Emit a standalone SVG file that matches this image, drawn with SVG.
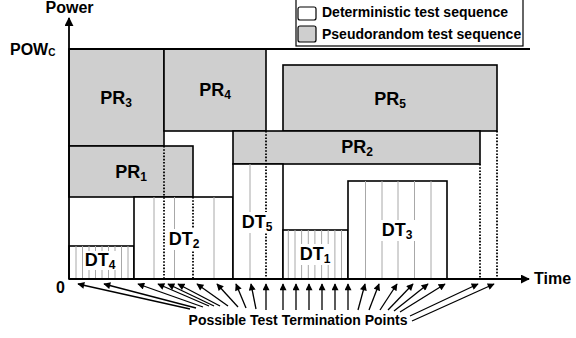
<svg xmlns="http://www.w3.org/2000/svg" width="576" height="338" viewBox="0 0 576 338">
<style>
text{font-family:"Liberation Sans",Arial,sans-serif;font-weight:bold;fill:#000}
.lbl{font-size:18px}
.sub{font-size:12px}
.pr{fill:#cfcfcf;stroke:#000;stroke-width:1.6}
.dt{fill:#fff;stroke:#000;stroke-width:1.6}
.st{stroke:#a8a8a8;stroke-width:1}
.dot{stroke:#000;stroke-width:1.8;stroke-dasharray:1.6 1.6;fill:none}
.ax{stroke:#000;stroke-width:1.8;fill:none}
.bg{fill:#fff}
.ar{stroke:#000;stroke-width:1.3;fill:none;marker-end:url(#ah)}
</style>
<defs>
<marker id="ah" viewBox="0 0 10 10" refX="9" refY="5" markerWidth="8" markerHeight="7" markerUnits="userSpaceOnUse" orient="auto">
<path d="M0,0 L10,5 L0,10 z" fill="#000"/>
</marker>
<marker id="axh" viewBox="0 0 10 10" refX="9" refY="5" markerWidth="9" markerHeight="9" markerUnits="userSpaceOnUse" orient="auto">
<path d="M0,0 L10,5 L0,10 z" fill="#000"/>
</marker>
</defs>

<g id="legend">
<rect x="296" y="-1" width="227" height="47" fill="#fff" stroke="#000" stroke-width="1.2"/>
<rect x="298" y="7" width="18" height="13" rx="2" fill="#fff" stroke="#000" stroke-width="1.2"/>
<text x="322" y="17" font-size="14">Deterministic test sequence</text>
<rect x="298" y="26" width="18" height="16" rx="2" fill="#cfcfcf" stroke="#000" stroke-width="1.2"/>
<text x="322" y="39" font-size="14">Pseudorandom test sequence</text>
</g>

<g id="pr3"><rect class="pr" x="69" y="49" width="95" height="97"/><text class="lbl" x="116" y="104" text-anchor="middle">PR<tspan class="sub" dy="3">3</tspan></text></g>
<g id="pr4"><rect class="pr" x="164" y="49" width="102" height="82"/><text class="lbl" x="215" y="96" text-anchor="middle">PR<tspan class="sub" dy="3">4</tspan></text></g>
<g id="pr5"><rect class="pr" x="283" y="65" width="214" height="66"/><text class="lbl" x="390" y="105" text-anchor="middle">PR<tspan class="sub" dy="3">5</tspan></text></g>
<g id="pr2"><rect class="pr" x="233" y="131" width="247" height="33"/><text class="lbl" x="357" y="153" text-anchor="middle">PR<tspan class="sub" dy="3">2</tspan></text></g>
<g id="pr1"><rect class="pr" x="69" y="146" width="124" height="51"/><text class="lbl" x="131" y="178" text-anchor="middle">PR<tspan class="sub" dy="3">1</tspan></text></g>

<g id="dt4">
<rect class="dt" x="69" y="246" width="65" height="33"/>
<path class="st" d="M76,246V279M82.5,246V279M89,246V279M95.5,246V279M102,246V279M108.5,246V279M115,246V279M121.5,246V279M128,246V279"/>
<rect class="bg" x="84" y="251" width="33" height="19"/>
<text class="lbl" x="100" y="266" text-anchor="middle">DT<tspan class="sub" dy="3">4</tspan></text>
</g>
<g id="dt2">
<rect class="dt" x="134" y="197" width="99" height="82"/>
<path class="st" d="M154,197V279M174.5,197V279M214,197V279"/>
</g>
<g id="dt5">
<rect class="dt" x="233" y="164" width="50" height="115"/>
<path class="st" d="M250,164V279"/>
</g>
<g id="dt1">
<rect class="dt" x="283" y="230" width="65" height="49"/>
<path class="st" d="M288.3,230V279M295,230V279M301.6,230V279M308.3,230V279M314.9,230V279M321.6,230V279M328.2,230V279M334.9,230V279M341.5,230V279"/>
</g>
<g id="dt3">
<rect class="dt" x="348" y="181" width="99" height="98"/>
<path class="st" d="M365.5,181V279M382,181V279M398,181V279M414.5,181V279M431,181V279"/>
</g>

<g id="termination-lines">
<path class="dot" d="M164,146V279M193,197V279M266,131V279M480,164V279M497,131V279"/>
</g>

<g id="dt-labels">
<rect class="bg" x="167" y="229" width="35" height="21"/>
<text class="lbl" x="184" y="245" text-anchor="middle">DT<tspan class="sub" dy="3">2</tspan></text>
<rect class="bg" x="240" y="212" width="35" height="21"/>
<text class="lbl" x="257" y="228" text-anchor="middle">DT<tspan class="sub" dy="3">5</tspan></text>
<rect class="bg" x="298" y="244" width="35" height="21"/>
<text class="lbl" x="315" y="260" text-anchor="middle">DT<tspan class="sub" dy="3">1</tspan></text>
<rect class="bg" x="380" y="220" width="35" height="21"/>
<text class="lbl" x="397" y="236" text-anchor="middle">DT<tspan class="sub" dy="3">3</tspan></text>
</g>

<g id="axes">
<path class="ax" d="M69,279V18" marker-end="url(#axh)"/>
<path class="ax" d="M69,279H529" marker-end="url(#axh)"/>
<path d="M69,49H530" stroke="#000" stroke-width="2"/>
<text x="69.5" y="13" font-size="16" text-anchor="middle">Power</text>
<text x="534" y="284" font-size="16">Time</text>
<text x="10" y="55" font-size="16">POW<tspan font-size="10" dy="1">C</tspan></text>
<text x="65" y="293" font-size="16" text-anchor="end">0</text>
</g>

<g id="connectors">
<line class="ar" x1="190" y1="309" x2="78" y2="284"/>
<line class="ar" x1="196" y1="308" x2="104" y2="284"/>
<line class="ar" x1="203" y1="307" x2="138" y2="284"/>
<line class="ar" x1="209" y1="306" x2="158" y2="284"/>
<line class="ar" x1="214" y1="306" x2="168" y2="284"/>
<line class="ar" x1="220" y1="306" x2="178" y2="284"/>
<line class="ar" x1="228" y1="306" x2="197" y2="284"/>
<line class="ar" x1="238" y1="307" x2="217" y2="284"/>
<line class="ar" x1="246" y1="308" x2="236" y2="284"/>
<line class="ar" x1="256" y1="309" x2="251" y2="284"/>
<line class="ar" x1="266" y1="310" x2="266" y2="284"/>
<line class="ar" x1="283" y1="310" x2="283" y2="284"/>
<line class="ar" x1="296" y1="310" x2="296" y2="284"/>
<line class="ar" x1="309" y1="310" x2="309" y2="284"/>
<line class="ar" x1="322" y1="310" x2="322" y2="284"/>
<line class="ar" x1="335" y1="310" x2="335" y2="284"/>
<line class="ar" x1="348" y1="310" x2="348" y2="284"/>
<line class="ar" x1="358" y1="310" x2="365" y2="284"/>
<line class="ar" x1="369" y1="310" x2="379" y2="284"/>
<line class="ar" x1="380" y1="310" x2="397" y2="284"/>
<line class="ar" x1="388" y1="310" x2="413" y2="284"/>
<line class="ar" x1="394" y1="311" x2="428" y2="284"/>
<line class="ar" x1="400" y1="312" x2="445" y2="284"/>
<line class="ar" x1="410" y1="316" x2="478" y2="284"/>
<line class="ar" x1="412" y1="321" x2="494" y2="284"/>
<text x="298" y="325" font-size="14" text-anchor="middle">Possible Test Termination Points</text>
</g>
</svg>
